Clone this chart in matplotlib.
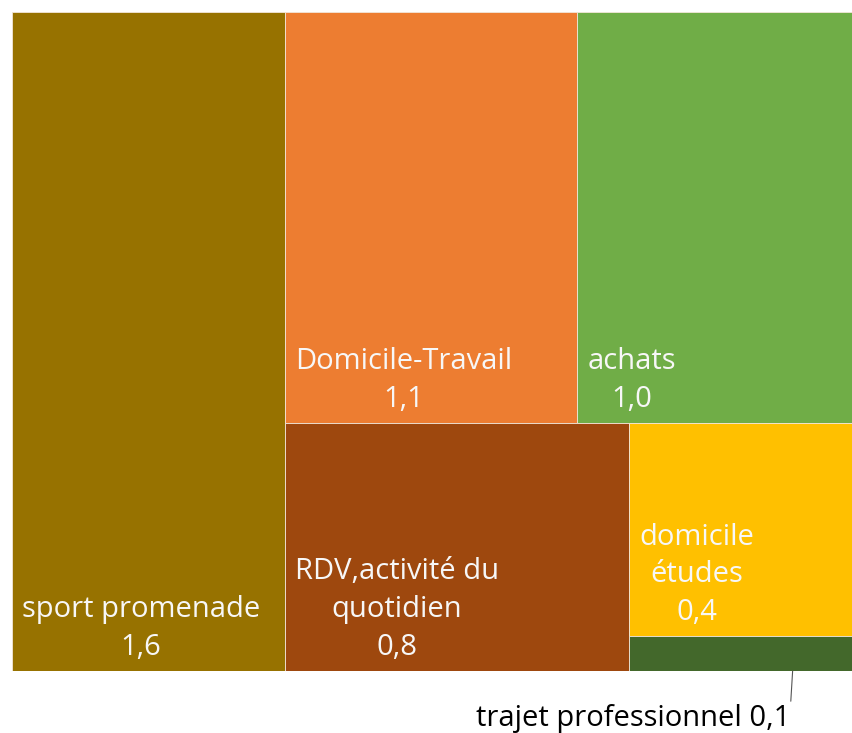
"""
Treemap of trips by purpose (rebuilt with plain matplotlib rectangles).
"""

import matplotlib.pyplot as plt
from matplotlib.patches import Rectangle

# values (areas), labels shown rounded to one decimal
names = ["sport promenade", "Domicile-Travail", "achats",
         "RDV,activité du\nquotidien", "domicile\nétudes", "trajet professionnel"]
values = [1.62, 1.08, 1.02, 0.77, 0.43, 0.07]
colors = ["#977200", "#ED7D31", "#70AD47", "#9E480E", "#FFC000", "#43682B"]


def fmt(v):
    return f"{v:.1f}".replace(".", ",")


def layout(vals):
    """sport column on the left, then two rows; last two stacked in a column"""
    sport, dt, ach, rdv, etu, tra = vals
    total = sum(vals)
    rects = []
    w0 = sport / total
    rects.append((0, 0, w0, 1))
    rest_w = 1 - w0
    rest = total - sport
    top_h = (dt + ach) / rest
    y_top = 1 - top_h
    w_dt = rest_w * dt / (dt + ach)
    rects.append((w0, y_top, w_dt, top_h))
    rects.append((w0 + w_dt, y_top, rest_w - w_dt, top_h))
    bot = rdv + etu + tra
    w_rdv = rest_w * rdv / bot
    rects.append((w0, 0, w_rdv, y_top))
    h_tra = y_top * tra / (etu + tra)
    x_col = w0 + w_rdv
    rects.append((x_col, h_tra, 1 - x_col, y_top - h_tra))
    rects.append((x_col, 0, 1 - x_col, h_tra))
    return rects


def main():
    plt.rcParams["font.family"] = ["Open Sans", "DejaVu Sans"]
    fig = plt.figure(figsize=(8.53, 7.33), dpi=100)
    ax = fig.add_axes([12 / 853, 62 / 733, 841 / 853, 659 / 733])
    ax.set_xlim(0, 1)
    ax.set_ylim(0, 1)
    ax.axis("off")

    rects = layout(values)
    for i, (x, y, w, h) in enumerate(rects):
        ax.add_patch(Rectangle((x, y), w, h, facecolor=colors[i],
                               edgecolor="#f2e6d9", lw=0.6))
        if i == len(values) - 1:
            continue
        ax.annotate(f"{names[i]}\n{fmt(values[i])}", xy=(x, y),
                    xytext=(10, 9), textcoords="offset pixels",
                    ha="left", va="bottom", multialignment="center",
                    color="#f7f7f7", fontsize=21, linespacing=1.4)

    # small box gets its label outside, with a leader line
    x, y, w, h = rects[-1]
    ax.annotate(f"{names[-1]} {fmt(values[-1])}", xy=(x + 0.73 * w, y),
                xytext=(-2, -33), textcoords="offset pixels",
                ha="right", va="top", color="black", fontsize=21,
                annotation_clip=False,
                arrowprops=dict(arrowstyle="-", color="#555555", lw=0.8,
                                relpos=(1, 1), shrinkA=0, shrinkB=0))

    fig.savefig("out.png", dpi=100)


if __name__ == "__main__":
    main()
